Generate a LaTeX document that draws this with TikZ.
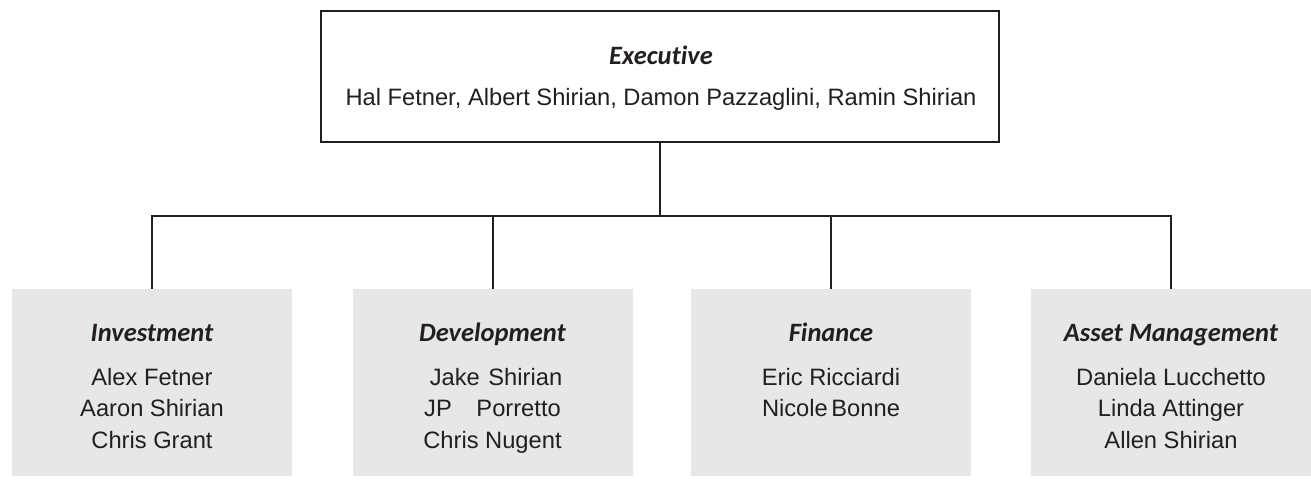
\documentclass[tikz,border=0pt]{standalone}
\usepackage{fontspec}
\setmainfont{Liberation Sans}
\newfontfamily\hdfont{Carlito}[Ligatures=CommonOff]
\definecolor{ink}{HTML}{231F20}
\definecolor{boxgray}{HTML}{E6E7E8}
\begin{document}
\begin{tikzpicture}[x=1pt,y=-1pt,
  line/.style={draw=ink,line width=2pt},
  topbox/.style={draw=ink,line width=2pt,fill=white,minimum width=678pt,minimum height=131pt,inner sep=0pt},
  deptbox/.style={fill=boxgray,draw=none,minimum width=280pt,minimum height=187pt,inner sep=0pt},
  head/.style={anchor=base,inner sep=0pt,text=ink,font=\hdfont\bfseries\itshape\fontsize{26.5}{30}\selectfont},
  people/.style={anchor=base,inner sep=0pt,text=ink,font=\fontsize{23.7}{28}\selectfont}]
\useasboundingbox (0,0) rectangle (1311,479);
% boxes
\node[topbox] (exec) at (660,76.5) {};
\node[deptbox] (b1) at (152,382.5) {};
\node[deptbox] (b2) at (492.5,382.5) {};
\node[deptbox] (b3) at (831,382.5) {};
\node[deptbox] (b4) at (1171,382.5) {};
% connectors
\coordinate (bus) at (660,216);
\draw[line] (exec.south) -- (bus);
\draw[line] (b1.north) -- (b1.north |- bus) -- (b4.north |- bus) -- (b4.north);
\draw[line] (b2.north) -- (b2.north |- bus);
\draw[line] (b3.north) -- (b3.north |- bus);
% top texts
\node[head] (eh) at (661,64) {Executive};
\node[people] (en) at (661,105) {Hal Fetner, Albert Shirian, Damon Pazzaglini, Ramin Shirian};
% Investment
\node[head] (h1) at (152,341) {Investment};
\node[people] (n11) at (152,385) {Alex Fetner};
\node[people] (n12) at (152,416.5) {Aaron Shirian};
\node[people] (n13) at (152,448) {Chris Grant};
% Development
\node[head] (h2) at (492.5,341) {Development};
\node[people] (n21) at (496,385) {Jake\hspace{2pt} Shirian};
\node[people] (n22) at (492.5,416.5) {JP\hspace{18pt} Porretto};
\node[people] (n23) at (492.5,448) {Chris Nugent};
% Finance
\node[head] (h3) at (831,341) {Finance};
\node[people] (n31) at (831,385) {Eric Ricciardi};
\node[people] (n32) at (831,416.5) {Nicole\hspace{-3pt} Bonne};
% Asset Management
\node[head] (h4) at (1171,341) {Asset Management};
\node[people] (n41) at (1171,385) {Daniela Lucchetto};
\node[people] (n42) at (1171,416.5) {Linda Attinger};
\node[people] (n43) at (1171,448) {Allen Shirian};
\end{tikzpicture}
\end{document}
